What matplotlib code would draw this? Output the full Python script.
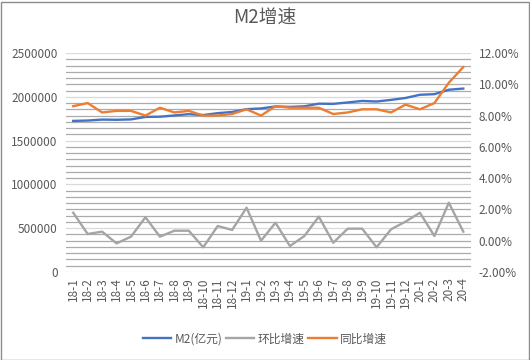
import matplotlib
matplotlib.use('Agg')
import matplotlib.pyplot as plt
from matplotlib.ticker import FixedLocator, FuncFormatter, MultipleLocator
from matplotlib.lines import Line2D
from matplotlib.patches import Rectangle

plt.rcParams['font.family'] = ['Noto Sans CJK SC', 'DejaVu Sans']

# months
months = ['18-1', '18-2', '18-3', '18-4', '18-5', '18-6', '18-7', '18-8', '18-9', '18-10',
          '18-11', '18-12', '19-1', '19-2', '19-3', '19-4', '19-5', '19-6', '19-7', '19-8',
          '19-9', '19-10', '19-11', '19-12', '20-1', '20-2', '20-3', '20-4']

# M2 (亿元), left axis
m2 = [1724904, 1729000, 1739859, 1737684, 1742004, 1770178, 1772710, 1786987, 1801666, 1791735,
      1813175, 1826744, 1858974, 1867000, 1889412, 1884670, 1891500, 1921360, 1919410, 1935500,
      1952500, 1946200, 1964500, 1986500, 2023100, 2030000, 2080900, 2093600]

# 环比增速 (%), right axis
mom = [1.79, 0.43, 0.58, -0.17, 0.26, 1.50, 0.26, 0.64, 0.64, -0.42,
       0.94, 0.69, 2.11, 0.00, 1.15, -0.34, 0.30, 1.54, -0.13, 0.77,
       0.77, -0.42, 0.73, 1.22, 1.79, 0.30, 2.43, 0.58]

# 同比增速 (%), right axis
yoy = [8.6, 8.8, 8.2, 8.3, 8.3, 8.0, 8.5, 8.2, 8.3, 8.0,
       8.0, 8.1, 8.4, 8.0, 8.6, 8.5, 8.5, 8.5, 8.1, 8.2,
       8.4, 8.4, 8.2, 8.7, 8.4, 8.8, 10.1, 11.1]

txt = '#595959'
blue, gray, orange = '#4472C4', '#A5A5A5', '#ED7D31'

fig = plt.figure(figsize=(5.3, 3.6), dpi=100)
ax = fig.add_axes([66 / 530, 1 - 272 / 360, (470.5 - 66) / 530, (272 - 53) / 360])
ax2 = ax.twinx()

x = list(range(len(months)))

# grid: light majors every 500000, darker minor lines every 0.4% of the right axis
ax.set_ylim(0, 2500000)
ax.set_xlim(-0.5, len(months) - 0.5)
step = 2500000 / 35
minor = [i * step for i in range(36) if i % 7 != 0]
ax.yaxis.set_major_locator(MultipleLocator(500000))
ax.yaxis.set_major_formatter(FuncFormatter(lambda v, p: f'{v:.0f}'))
ax.yaxis.set_minor_locator(FixedLocator(minor))
ax.grid(axis='y', which='major', color='#d9d9d9', lw=0.9)
ax.grid(axis='y', which='minor', color='#ababab', lw=0.9)
ax.set_axisbelow(True)

ax.plot(x, m2, color=blue, lw=1.7, zorder=3)
ax2.plot(x, mom, color=gray, lw=1.7)
ax2.plot(x, yoy, color=orange, lw=1.7)

ax2.set_ylim(-2, 12)
ax2.yaxis.set_major_locator(MultipleLocator(2))
ax2.yaxis.set_major_formatter(FuncFormatter(lambda v, p: f'{v:.2f}%'))

for a in (ax, ax2):
    for s in a.spines.values():
        s.set_visible(False)
    a.tick_params(axis='y', which='both', length=0, labelsize=8.5, labelcolor=txt)
ax.tick_params(axis='y', pad=6)
ax2.tick_params(axis='y', pad=6)

ax.set_xticks(x)
ax.set_xticklabels(months, rotation=90, fontsize=8.5, color=txt)
ax.tick_params(axis='x', length=0, pad=4)

fig.text(0.5, 1 - 18 / 360, 'M2增速', ha='center', va='center', fontsize=13.5, color=txt)

handles = [Line2D([], [], color=blue, lw=1.7),
           Line2D([], [], color=gray, lw=1.7),
           Line2D([], [], color=orange, lw=1.7)]
fig.legend(handles, ['M2(亿元)', '环比增速', '同比增速'], loc='center',
           bbox_to_anchor=(265 / 530, 1 - 339 / 360), ncol=3, frameon=False,
           fontsize=8.5, labelcolor=txt, handlelength=2.4, handletextpad=0.3,
           columnspacing=0.3)

fig.patches.append(Rectangle((0.5 / 530, 0.5 / 360), 528.5 / 530, 358 / 360,
                             transform=fig.transFigure, fill=False,
                             edgecolor='#8c8c8c', lw=1))

fig.savefig('out.png', dpi=100)
